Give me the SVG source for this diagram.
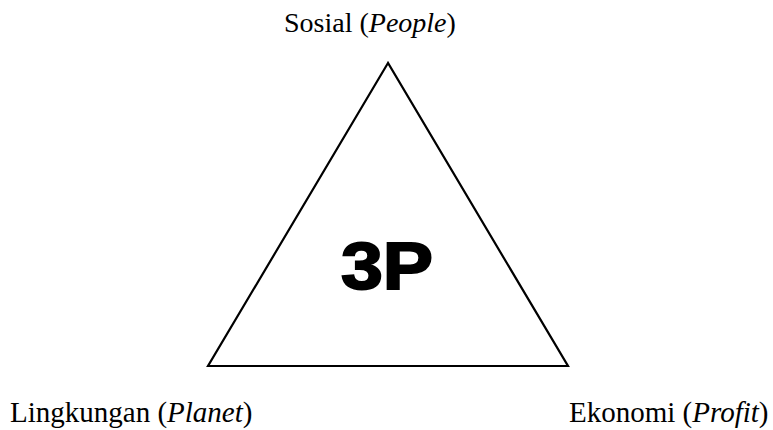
<svg xmlns="http://www.w3.org/2000/svg" width="773" height="430" viewBox="0 0 773 430">
<style>
.lbl{font-family:"Liberation Serif","Times New Roman",serif;fill:#000}
.it{font-style:italic}
.big{font-family:"Liberation Sans",Arial,sans-serif;font-weight:bold;fill:#000;stroke:#000;stroke-width:2}
</style>
<rect width="773" height="430" fill="#fff"/>
<g id="triangle">
<polygon points="388,63 208,366 568,366" fill="none" stroke="#000" stroke-width="2.2" stroke-linejoin="miter"/>
<text class="big" x="341" y="289" font-size="67" textLength="92" lengthAdjust="spacingAndGlyphs">3P</text>
</g>
<g id="sosial">
<text class="lbl" x="284" y="32" font-size="28">Sosial (<tspan class="it">People</tspan>)</text>
</g>
<g id="lingkungan">
<text class="lbl" x="10" y="422" font-size="29">Lingkungan (<tspan class="it">Planet</tspan>)</text>
</g>
<g id="ekonomi">
<text class="lbl" x="569" y="422" font-size="29">Ekonomi (<tspan class="it">Profit</tspan>)</text>
</g>
<g id="connectors"></g>
</svg>
